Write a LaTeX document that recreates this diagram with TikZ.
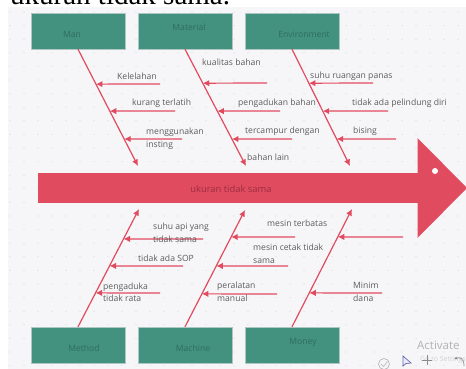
\documentclass[tikz,border=0pt]{standalone}
\usepackage{fontspec}
\setmainfont{Open Sans}
\newfontfamily\headserif{Liberation Serif}
\usetikzlibrary{arrows.meta,calc}
\definecolor{fbred}{HTML}{E14B60}
\definecolor{fbteal}{HTML}{43917F}
\definecolor{fbtealtext}{HTML}{2F6E60}
\definecolor{fblabel}{HTML}{5C5C5C}
\definecolor{fbcanvas}{HTML}{F6F6F8}
\definecolor{fbdot}{HTML}{D6D6DB}
\definecolor{fbmain}{HTML}{9C2E40}
\begin{document}
\begin{tikzpicture}[x=1pt,y=-1pt,
  catbox/.style={draw=fbteal!80!black!40, line width=0.4pt, fill=fbteal, minimum width=94pt, minimum height=36pt, inner sep=0pt},
  cattext/.style={text=fbtealtext, font=\fontsize{8.6}{10}\selectfont, inner sep=0pt},
  lbl/.style={text=fblabel, font=\fontsize{8.6}{12.5}\selectfont, inner sep=0pt, anchor=west, align=left},
  spine/.style={draw=fbred, line width=1.2pt, -{Latex[length=6.5pt,width=6.5pt]}},
  branch/.style={draw=fbred, line width=1.2pt, -{Latex[length=6.5pt,width=6.5pt]}}]
\useasboundingbox (0,0) rectangle (466,369);
\fill[white] (0,0) rectangle (466,369);
\fill[fbcanvas] (8,7) rectangle (466,369);
\foreach \i in {0,...,33} {\foreach \j in {0,...,26} {\fill[fbdot] (10+\i*14,12+\j*13.6) circle (0.6);}}
% cut-off heading at top
\begin{scope}
\clip (0,0) rectangle (466,7.2);
\node[anchor=base west, inner sep=0pt, font=\headserif\fontsize{29}{30}\selectfont] (head) at (10,4.6) {ukuran tidak sama.};
\end{scope}
% main arrow
\node[fill=fbred, minimum width=380pt, minimum height=30pt, inner sep=0pt] (body) at (228,188) {};
\fill[fbred] (417.5,138) -- (467,188) -- (417.5,238) -- cycle;
\fill[white] (435,171) circle (3);
\node[text=fbmain, font=\fontsize{9.4}{11}\selectfont, inner sep=0pt] (effect) at (231,189) {ukuran tidak sama};
% category boxes
\node[catbox] (man) at (78,31) {};
\node[cattext] (manL) at (72,34) {Man};
\node[catbox] (mat) at (185,31) {};
\node[cattext] (matL) at (189,27) {Material};
\node[catbox] (env) at (292,31) {};
\node[cattext] (envL) at (304,34) {Environment};
\node[catbox] (meth) at (78,345) {};
\node[cattext] (methL) at (84,348) {Method};
\node[catbox] (mach) at (185,345) {};
\node[cattext] (machL) at (193,348) {Machine};
\node[catbox] (mon) at (292,345) {};
\node[cattext] (monL) at (303,342) {Money};
% spine tips
\coordinate (manT) at (138,166);
\coordinate (matT) at (246,166);
\coordinate (envT) at (350,166);
\coordinate (methT) at (139,209);
\coordinate (machT) at (245,210);
\coordinate (monT) at (352,209);
\draw[spine] (man.south) -- (manT);
\draw[spine] (mat.south) -- (matT);
\draw[spine] (env.south) -- (envT);
\draw[spine] (meth.north) -- (methT);
\draw[spine] (mach.north) -- (machT);
\draw[spine] (mon.north) -- (monT);
% branch ends on spines
\coordinate (a1) at ($(man.south)!0.299!(manT)$);
\coordinate (a2) at ($(man.south)!0.530!(manT)$);
\coordinate (a3) at ($(man.south)!0.769!(manT)$);
\coordinate (b1) at ($(mat.south)!0.291!(matT)$);
\coordinate (b2) at ($(mat.south)!0.530!(matT)$);
\coordinate (b3) at ($(mat.south)!0.769!(matT)$);
\coordinate (c1) at ($(env.south)!0.291!(envT)$);
\coordinate (c2) at ($(env.south)!0.530!(envT)$);
\coordinate (c3) at ($(env.south)!0.769!(envT)$);
\coordinate (d1) at ($(meth.north)!0.746!(methT)$);
\coordinate (d2) at ($(meth.north)!0.517!(methT)$);
\coordinate (d3) at ($(meth.north)!0.288!(methT)$);
\coordinate (e1) at ($(mach.north)!0.769!(machT)$);
\coordinate (e2) at ($(mach.north)!0.521!(machT)$);
\coordinate (e3) at ($(mach.north)!0.282!(machT)$);
\coordinate (f1) at ($(mon.north)!0.763!(monT)$);
\coordinate (f2) at ($(mon.north)!0.288!(monT)$);
% branch starts
\coordinate (a1s) at (160,84);
\coordinate (a2s) at (175,111);
\coordinate (a3s) at (182,139);
\coordinate (b1s) at (267,83);
\coordinate (b2s) at (280,111);
\coordinate (b3s) at (292,139);
\coordinate (c1s) at (373,83);
\coordinate (c2s) at (388,111);
\coordinate (c3s) at (396,139);
\coordinate (d1s) at (203,239);
\coordinate (d2s) at (183,266);
\coordinate (d3s) at (160,293);
\coordinate (e1s) at (295,237);
\coordinate (e2s) at (288,266);
\coordinate (e3s) at (277,294);
\coordinate (f1s) at (403,237);
\coordinate (f2s) at (382,293);
\foreach \s/\e in {a1s/a1,a2s/a2,a3s/a3,b1s/b1,b2s/b2,b3s/b3,c1s/c1,c2s/c2,c3s/c3,d1s/d1,d2s/d2,d3s/d3,e1s/e1,e2s/e2,e3s/e3,f1s/f1,f2s/f2}
  {\draw[branch] (\s) -- (\e);}
% labels
\node[lbl] (la1) at (117,76) {Kelelahan};
\node[lbl] (la2) at (132,103) {kurang terlatih};
\node[lbl] (la3) at (146,139) {menggunakan\\insting};
\node[lbl] (lb1) at (202,62) {kualitas bahan};
\node[lbl] (lb2) at (238,103) {pengadukan bahan};
\node[lbl] (lb3) at (245,131) {tercampur dengan};
\node[lbl] (lb3b) at (247,157) {bahan lain};
\node[lbl] (lc1) at (310,76) {suhu ruangan panas};
\node[lbl] (lc2) at (352,103) {tidak ada pelindung diri};
\node[lbl] (lc3) at (353,131) {bising};
\node[lbl] (ld1) at (153,233) {suhu api yang\\tidak sama};
\node[lbl] (ld2) at (138,258) {tidak ada SOP};
\node[lbl] (ld3) at (103,292.5) {pengaduka\\tidak rata};
\node[lbl] (le1) at (267,223) {mesin terbatas};
\node[lbl] (le2) at (253,254) {mesin cetak tidak\\sama};
\node[lbl] (le3) at (217,292) {peralatan\\manual};
\node[lbl] (lf2) at (353,292) {Minim\\dana};
% watermark and toolbar remnants
\node[anchor=west, inner sep=0pt, text=black!30, font=\fontsize{11.5}{12}\selectfont] (wm) at (417,345) {Activate};
\node[anchor=west, inner sep=0pt, text=black!18, font=\fontsize{7}{8}\selectfont] (wm2) at (420,360) {Go to Settings};
\draw[black!30, line width=0.6pt] (384,364) circle (5.5);
\draw[black!30, line width=0.6pt] (381,364) -- (383.5,366.5) -- (387.5,361.5);
\draw[fill=blue!8, draw=blue!45!black!60, line width=0.7pt] (403,356) -- (403,366) -- (406,363.5) -- (411,363) -- cycle;
\draw[black!45, line width=0.7pt] (422,360) -- (432,360) (427,355) -- (427,365);
\draw[black!45, line width=0.7pt, -{Latex[length=3pt,width=3pt]}] (464,366) .. controls (464,358) and (460,357) .. (454,359);
\end{tikzpicture}
\end{document}
